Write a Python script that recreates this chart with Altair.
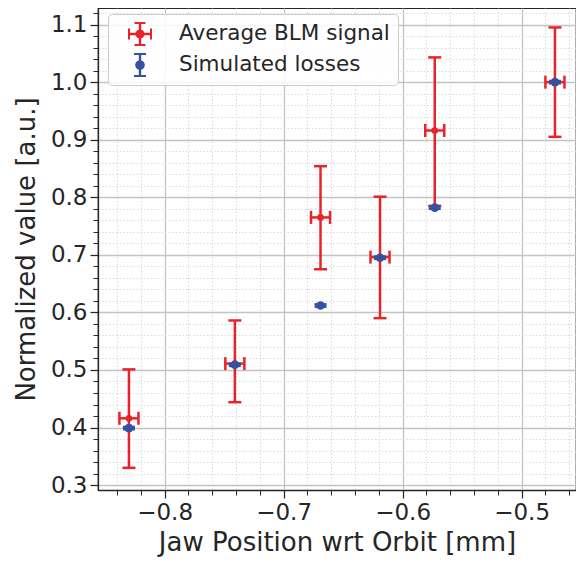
import altair as alt
import pandas as pd

# ---- data ----
positions = [-0.830, -0.741, -0.669, -0.619, -0.573, -0.472]
pos_err = [0.008, 0.008, 0.008, 0.008, 0.008, 0.008]
blm_signal = [0.416, 0.511, 0.765, 0.696, 0.916, 1.000]
blm_low = [0.330, 0.444, 0.675, 0.590, 0.785, 0.905]
blm_high = [0.501, 0.586, 0.854, 0.801, 1.043, 1.095]
sim_losses = [0.399, 0.509, 0.612, 0.695, 0.782, 1.000]
sim_low = [0.397, 0.507, 0.610, 0.693, 0.780, 0.998]
sim_high = [0.401, 0.511, 0.614, 0.697, 0.784, 1.002]
series_names = ["Average BLM signal", "Simulated losses"]
series_colors = ["#e8232b", "#3552a2"]
x_major = [-0.8, -0.7, -0.6, -0.5]
y_major = [0.3, 0.4, 0.5, 0.6, 0.7, 0.8, 0.9, 1.0, 1.1]
x_all = [round(-0.84 + 0.02 * i, 2) for i in range(20)]
y_all = [round(0.30 + 0.02 * i, 2) for i in range(42)]

red, blue = series_colors
ink = "#262626"
font = "DejaVu Sans"

red_df = pd.DataFrame({
    "pos": positions,
    "xlo": [p - e for p, e in zip(positions, pos_err)],
    "xhi": [p + e for p, e in zip(positions, pos_err)],
    "val": blm_signal, "lo": blm_low, "hi": blm_high,
})
blue_df = pd.DataFrame({
    "pos": positions, "val": sim_losses, "lo": sim_low, "hi": sim_high,
})
legend_df = pd.DataFrame({
    "pos": positions + positions,
    "val": blm_signal + sim_losses,
    "series": [series_names[0]] * 6 + [series_names[1]] * 6,
})

test10 = "abs(datum.value*10 - round(datum.value*10)) < 0.001"


def make_axis(title, values, title_pad):
    return alt.Axis(
        title=title,
        values=values,
        labelExpr=f"{test10} ? format(datum.value, '.1f') : ''",
        labelOverlap=False,
        labelFlush=False,
        titlePadding=title_pad,
        tickSize={"condition": {"test": test10, "value": 8}, "value": 5},
        tickWidth={"condition": {"test": test10, "value": 1.25}, "value": 1},
        gridColor={"condition": {"test": test10, "value": "#c4c4c4"}, "value": "#d6d6d6"},
        gridWidth={"condition": {"test": test10, "value": 1.3}, "value": 0.9},
        gridDash={"condition": {"test": test10, "value": []}, "value": [1.5, 2]},
    )


xscale = alt.Scale(domain=[-0.856, -0.4543], nice=False, zero=False)
yscale = alt.Scale(domain=[0.2915, 1.1288], nice=False, zero=False)
xaxis = make_axis("Jaw Position wrt Orbit [mm]", x_all, 5)
yaxis = make_axis("Normalized value [a.u.]", y_all, 11)


def X(f):
    return alt.X(f"{f}:Q", scale=xscale, axis=xaxis)


def Y(f):
    return alt.Y(f"{f}:Q", scale=yscale, axis=yaxis)


# legend symbol paths (unit box, y down)
def rect(x0, y0, x1, y1):
    return f"M{x0},{y0}L{x1},{y0}L{x1},{y1}L{x0},{y1}Z"


def dot(r):
    return f"M{-r},0A{r},{r},0,1,1,{r},0A{r},{r},0,1,1,{-r},0Z"


red_path = (rect(-0.1, -0.95, 0.1, 0.95) + rect(-0.45, -1, 0.45, -0.83) +
            rect(-0.45, 0.83, 0.45, 1) + rect(-1, -0.1, 1, 0.1) +
            rect(-1, -0.45, -0.83, 0.45) + rect(0.83, -0.45, 1, 0.45) + dot(0.38))
blue_path = (rect(-0.1, -0.95, 0.1, 0.95) + rect(-0.5, -1, 0.5, -0.83) +
             rect(-0.5, 0.83, 0.5, 1) + dot(0.4))

legend = alt.Legend(
    title=None, orient="none", legendX=10, legendY=6,
    symbolSize=576, symbolStrokeWidth=0, symbolOpacity=1,
    labelFontSize=21.5, labelFont=font, labelColor=ink, labelLimit=500,
    labelOffset=27, symbolOffset=12, padding=8, rowPadding=7,
    fillColor="rgba(255,255,255,0.85)", strokeColor="#cccccc", cornerRadius=4,
)

tick_kw = dict(thickness=2.5, opacity=1)
rb = alt.Chart(red_df)
red_layers = [
    rb.mark_rule(color=red, strokeWidth=2.5).encode(x=X("pos"), y=Y("lo"), y2="hi"),
    rb.mark_rule(color=red, strokeWidth=2.5).encode(y=Y("val"), x=X("xlo"), x2="xhi"),
    rb.mark_tick(color=red, orient="horizontal", size=13, **tick_kw).encode(x=X("pos"), y=Y("hi")),
    rb.mark_tick(color=red, orient="horizontal", size=13, **tick_kw).encode(x=X("pos"), y=Y("lo")),
    rb.mark_tick(color=red, orient="vertical", size=13, **tick_kw).encode(x=X("xlo"), y=Y("val")),
    rb.mark_tick(color=red, orient="vertical", size=13, **tick_kw).encode(x=X("xhi"), y=Y("val")),
    rb.mark_circle(color=red, size=45, opacity=1).encode(x=X("pos"), y=Y("val")),
]
bb = alt.Chart(blue_df)
blue_layers = [
    bb.mark_rule(color=blue, strokeWidth=2.5).encode(x=X("pos"), y=Y("lo"), y2="hi"),
    bb.mark_tick(color=blue, orient="horizontal", size=12, **tick_kw).encode(x=X("pos"), y=Y("hi")),
    bb.mark_tick(color=blue, orient="horizontal", size=12, **tick_kw).encode(x=X("pos"), y=Y("lo")),
    bb.mark_circle(color=blue, size=75, opacity=1).encode(x=X("pos"), y=Y("val")),
]
# legend-only layer (no visible marks: filtered empty, legend from explicit domain)
legend_layer = alt.Chart(legend_df).mark_point(filled=True, opacity=1).encode(
    x=X("pos"), y=Y("val"),
    color=alt.Color("series:N", scale=alt.Scale(domain=series_names, range=series_colors), legend=legend),
    shape=alt.Shape("series:N", scale=alt.Scale(domain=series_names, range=[red_path, blue_path]), legend=legend),
).transform_filter("false")

chart = alt.layer(*red_layers, *blue_layers, legend_layer).properties(
    width=478, height=482,
    autosize=alt.AutoSizeParams(type="none"),
    padding={"left": 90, "top": 0, "right": 0, "bottom": 70},
).configure_view(
    stroke=ink, strokeWidth=1.25
).configure_axis(
    labelFont=font, titleFont=font, labelFontSize=23, titleFontSize=26,
    labelColor=ink, titleColor=ink, domainColor=ink, tickColor=ink,
    titleFontWeight="normal", domainWidth=1.25, labelPadding=3,
)

chart.save("out.html", embed_options={"renderer": "svg", "actions": False})
